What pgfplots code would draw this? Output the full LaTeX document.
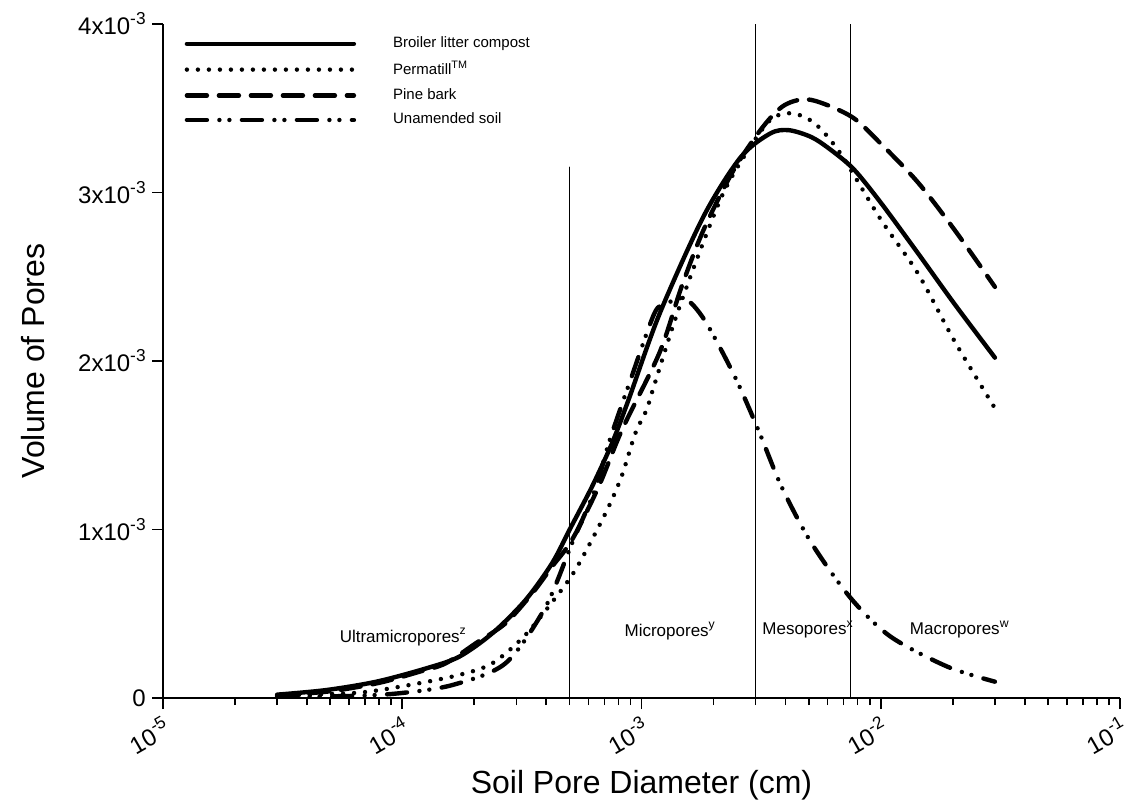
\documentclass[border=0pt]{standalone}
\usepackage{fontspec}
\setmainfont{Liberation Sans}
\usepackage{graphicx}
\usepackage{pgfplots}
\pgfplotsset{compat=1.18}
\newcommand{\sps}[1]{\raisebox{0.42em}{\scalebox{0.72}{#1}}}
\begin{document}
\begin{tikzpicture}
\useasboundingbox (-81.5pt,-56pt) rectangle (482.5pt,349pt);
\begin{axis}[
  at={(0,0)}, anchor=south west,
  scale only axis, width=478.5pt, height=337pt,
  xmode=log, xmin=1e-5, xmax=1e-1, ymin=0, ymax=0.004,
  axis lines=left,
  x axis line style={-, line width=1pt},
  y axis line style={-, line width=1pt},
  tick align=outside, major tick length=5.5pt, minor tick length=3.5pt,
  tick style={line width=0.8pt, black},
  xtick={1e-5,1e-4,1e-3,1e-2,1e-1},
  xticklabels={10\sps{-5},10\sps{-4},10\sps{-3},10\sps{-2},10\sps{-1}},
  minor xtick={2e-5,3e-5,4e-5,5e-5,6e-5,7e-5,8e-5,9e-5,2e-4,3e-4,4e-4,5e-4,6e-4,7e-4,8e-4,9e-4,2e-3,3e-3,4e-3,5e-3,6e-3,7e-3,8e-3,9e-3,2e-2,3e-2,4e-2,5e-2,6e-2,7e-2,8e-2,9e-2},
  ytick={0,0.001,0.002,0.003,0.004},
  yticklabels={0,1x10\sps{-3},2x10\sps{-3},3x10\sps{-3},4x10\sps{-3}},
  scaled y ticks=false,
  ticklabel style={font=\fontsize{12}{14}\selectfont},
  xticklabel style={rotate=30, anchor=north east, inner sep=2pt},
  yticklabel style={inner sep=3pt},
  xlabel={Soil Pore Diameter (cm)},
  ylabel={Volume of Pores},
  every axis x label/.style={at={(axis description cs:0.5,-0.129)}, anchor=center, font=\fontsize{16}{19}\selectfont},
  every axis y label/.style={at={(axis description cs:-0.136,0.5)}, rotate=90, anchor=center, font=\fontsize{16}{19}\selectfont},
  legend style={at={(0.016,0.9935)}, anchor=north west, draw=none, fill=none,
    font=\fontsize{7.5}{9}\selectfont, row sep=1.3pt,
    /tikz/every odd column/.append style={column sep=16.5pt}},
  legend cell align=left,
  legend image code/.code={\draw[#1] (0pt,0pt) -- (83.5pt,0pt);},
  every axis plot/.append style={line width=2.2pt, line cap=round, line join=round, black},
]
\addplot[smooth] coordinates {
(3.0e-5,0.00002) (4.8e-5,0.000047) (7.8e-5,0.000097) (1.26e-4,0.000176) (1.73e-4,0.000245)
(2.38e-4,0.000384) (3.27e-4,0.00058) (4.23e-4,0.00080) (5.04e-4,0.001007) (6.21e-4,0.001254)
(7.52e-4,0.00151) (8.83e-4,0.00177) (1.19e-3,0.00228) (1.82e-3,0.00286) (2.60e-3,0.00321)
(3.45e-3,0.00335) (4.12e-3,0.00337) (5.11e-3,0.00333) (6.09e-3,0.00326) (7.69e-3,0.00314)
(1.0e-2,0.00294) (1.43e-2,0.00264) (2.03e-2,0.00234) (3.0e-2,0.00202)};
\addlegendentry{Broiler litter compost}
\addplot[smooth, dash pattern=on 0pt off 5.5pt] coordinates {
(3.0e-5,0.000012) (3.49e-5,0.000018) (6.62e-5,0.000032) (1.07e-4,0.000077) (1.73e-4,0.000137)
(2.38e-4,0.000206) (3.27e-4,0.000374) (4.51e-4,0.00062) (5.29e-4,0.00076) (6.21e-4,0.00094)
(7.29e-4,0.001135) (8.28e-4,0.00132) (9.42e-4,0.00157) (1.05e-3,0.00171) (1.11e-3,0.00182)
(1.37e-3,0.00223) (1.70e-3,0.00260) (2.17e-3,0.00298) (2.7e-3,0.00322) (3.45e-3,0.00343)
(4.25e-3,0.00347) (5.3e-3,0.00341) (6.8e-3,0.00323) (1.0e-2,0.00284) (1.43e-2,0.00252)
(2.03e-2,0.00212) (3.0e-2,0.00172)};
\addlegendentry{Permatill\sps{TM}}
\addplot[smooth, dash pattern=on 10pt off 6pt] coordinates {
(3.0e-5,0.000015) (5e-5,0.00004) (8e-5,0.00009) (1.18e-4,0.000156) (1.52e-4,0.000206)
(2.03e-4,0.000325) (2.70e-4,0.000443) (3.49e-4,0.00062) (4.23e-4,0.00078) (5.13e-4,0.00094)
(6.62e-4,0.001254) (8.28e-4,0.00159) (1.19e-3,0.00205) (1.47e-3,0.00244) (1.82e-3,0.00278)
(2.42e-3,0.00313) (3.22e-3,0.00339) (3.98e-3,0.00352) (5.1e-3,0.00355) (7.55e-3,0.00345)
(1.0e-2,0.00329) (1.43e-2,0.00306) (2.03e-2,0.00278) (3.0e-2,0.00244)};
\addlegendentry{Pine bark}
\addplot[smooth, dash pattern=on 10pt off 6.25pt on 0pt off 5pt on 0pt off 6.25pt] coordinates {
(3.0e-5,0.000008) (6e-5,0.000012) (9.7e-5,0.000028) (1.62e-4,0.000077) (2.70e-4,0.000206)
(3.97e-4,0.00054) (5.13e-4,0.00092) (6.41e-4,0.00124) (7.29e-4,0.00151) (8.41e-4,0.00177)
(8.91e-4,0.00187) (1.13e-3,0.00228) (1.27e-3,0.00234) (1.52e-3,0.00237) (1.84e-3,0.00224)
(2.45e-3,0.00191) (3.08e-3,0.00159) (3.85e-3,0.001254) (5.13e-3,0.00092) (7.52e-3,0.00059)
(1.10e-2,0.000364) (1.90e-2,0.000186) (3.0e-2,0.000097)};
\addlegendentry{Unamended soil}
\addplot[forget plot, line width=0.6pt] coordinates {(5e-4,0) (5e-4,0.00315)};
\addplot[forget plot, line width=0.6pt] coordinates {(3e-3,0) (3e-3,0.004)};
\addplot[forget plot, line width=0.6pt] coordinates {(7.5e-3,0) (7.5e-3,0.004)};
\node[anchor=base west, font=\fontsize{8.5}{10}\selectfont, inner sep=0pt] at (axis cs:5.46e-5,0.000332) {Ultramicropores\sps{z}};
\node[anchor=base west, font=\fontsize{8.5}{10}\selectfont, inner sep=0pt] at (axis cs:8.47e-4,0.000368) {Micropores\sps{y}};
\node[anchor=base west, font=\fontsize{8.5}{10}\selectfont, inner sep=0pt] at (axis cs:3.19e-3,0.000374) {Mesopores\sps{x}};
\node[anchor=base west, font=\fontsize{8.5}{10}\selectfont, inner sep=0pt] at (axis cs:1.32e-2,0.000374) {Macropores\sps{w}};
\end{axis}
\end{tikzpicture}
\end{document}
